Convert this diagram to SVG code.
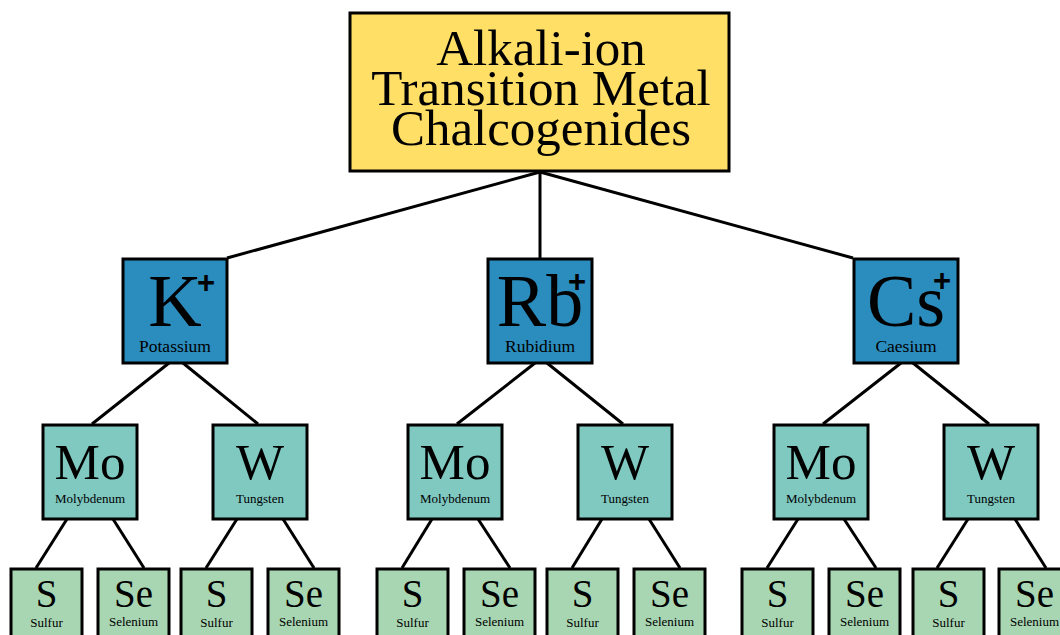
<svg xmlns="http://www.w3.org/2000/svg" width="1060" height="635" viewBox="0 0 1060 635">
<style>
.box{stroke:#000;stroke-width:3}
.root{fill:#FFDF66}
.alk{fill:#2B8CBE}
.tm{fill:#7FC9C1}
.ch{fill:#A8D6B2}
text{font-family:"Liberation Serif","Times New Roman",serif;fill:#000;text-anchor:middle}
.rt{font-size:51px}
.big{font-size:74px}
.sub{font-size:17.5px}
.mid{font-size:51px}
.sm{font-size:13px}
.chs{font-size:39px}
.plus{font-family:"Liberation Sans",Arial,sans-serif;font-size:31px;font-weight:bold}
.edge{stroke:#000;stroke-width:3;fill:none}
</style>
<rect width="1060" height="635" fill="#fff"/>
<g id="connectors">
<line class="edge" x1="540" y1="172" x2="227" y2="258"/>
<line class="edge" x1="540" y1="172" x2="540" y2="258"/>
<line class="edge" x1="540" y1="172" x2="853" y2="258"/>
<line class="edge" x1="169" y1="363" x2="92" y2="424"/>
<line class="edge" x1="183" y1="363" x2="258" y2="424"/>
<line class="edge" x1="535" y1="363" x2="457" y2="424"/>
<line class="edge" x1="547" y1="363" x2="623" y2="424"/>
<line class="edge" x1="901" y1="363" x2="823" y2="424"/>
<line class="edge" x1="913" y1="363" x2="989" y2="424"/>
<line class="edge" x1="67" y1="519" x2="36" y2="568"/>
<line class="edge" x1="113" y1="519" x2="144" y2="568"/>
<line class="edge" x1="237" y1="519" x2="206" y2="568"/>
<line class="edge" x1="283" y1="519" x2="314" y2="568"/>
<line class="edge" x1="432" y1="519" x2="402" y2="568"/>
<line class="edge" x1="478" y1="519" x2="510" y2="568"/>
<line class="edge" x1="602" y1="519" x2="572" y2="568"/>
<line class="edge" x1="649" y1="519" x2="680" y2="568"/>
<line class="edge" x1="798" y1="519" x2="767" y2="568"/>
<line class="edge" x1="844" y1="519" x2="876" y2="568"/>
<line class="edge" x1="968" y1="519" x2="937" y2="568"/>
<line class="edge" x1="1015" y1="519" x2="1046" y2="568"/>
</g>
<g id="root">
<rect class="box root" x="350" y="13" width="379" height="158"/>
<text class="rt" x="541" y="65">Alkali-ion</text>
<text class="rt" x="541" y="105">Transition Metal</text>
<text class="rt" x="541" y="145">Chalcogenides</text>
</g>
<g id="K">
<rect class="box alk" x="123" y="259" width="104" height="104"/>
<text class="big" x="175" y="326">K</text>
<text class="plus" x="206" y="293">+</text>
<text class="sub" x="175" y="352">Potassium</text>
</g>
<g id="Rb">
<rect class="box alk" x="488" y="259" width="104" height="104"/>
<text class="big" x="540" y="326">Rb</text>
<text class="plus" x="577" y="292">+</text>
<text class="sub" x="540" y="352">Rubidium</text>
</g>
<g id="Cs">
<rect class="box alk" x="854" y="259" width="104" height="104"/>
<text class="big" x="906" y="326">Cs</text>
<text class="plus" x="942" y="291">+</text>
<text class="sub" x="906" y="352">Caesium</text>
</g>
<g id="K-Mo">
<rect class="box tm" x="43" y="425" width="94" height="94"/>
<text class="mid" x="90" y="479">Mo</text>
<text class="sm" x="90" y="503">Molybdenum</text>
</g>
<g id="K-W">
<rect class="box tm" x="213" y="425" width="94" height="94"/>
<text class="mid" x="260" y="479">W</text>
<text class="sm" x="260" y="503">Tungsten</text>
</g>
<g id="Rb-Mo">
<rect class="box tm" x="408" y="425" width="94" height="94"/>
<text class="mid" x="455" y="479">Mo</text>
<text class="sm" x="455" y="503">Molybdenum</text>
</g>
<g id="Rb-W">
<rect class="box tm" x="578" y="425" width="94" height="94"/>
<text class="mid" x="625" y="479">W</text>
<text class="sm" x="625" y="503">Tungsten</text>
</g>
<g id="Cs-Mo">
<rect class="box tm" x="774" y="425" width="94" height="94"/>
<text class="mid" x="821" y="479">Mo</text>
<text class="sm" x="821" y="503">Molybdenum</text>
</g>
<g id="Cs-W">
<rect class="box tm" x="944" y="425" width="94" height="94"/>
<text class="mid" x="991" y="479">W</text>
<text class="sm" x="991" y="503">Tungsten</text>
</g>
<g id="K-Mo-S"><rect class="box ch" x="11" y="569" width="71" height="80"/><text class="chs" x="46.5" y="607">S</text><text class="sm" x="46.5" y="627">Sulfur</text></g>
<g id="K-Mo-Se"><rect class="box ch" x="98" y="569" width="71" height="80"/><text class="chs" x="133.5" y="607">Se</text><text class="sm" x="133.5" y="626">Selenium</text></g>
<g id="K-W-S"><rect class="box ch" x="181" y="569" width="71" height="80"/><text class="chs" x="216.5" y="607">S</text><text class="sm" x="216.5" y="627">Sulfur</text></g>
<g id="K-W-Se"><rect class="box ch" x="268" y="569" width="71" height="80"/><text class="chs" x="303.5" y="607">Se</text><text class="sm" x="303.5" y="626">Selenium</text></g>
<g id="Rb-Mo-S"><rect class="box ch" x="377" y="569" width="71" height="80"/><text class="chs" x="412.5" y="607">S</text><text class="sm" x="412.5" y="627">Sulfur</text></g>
<g id="Rb-Mo-Se"><rect class="box ch" x="464" y="569" width="71" height="80"/><text class="chs" x="499.5" y="607">Se</text><text class="sm" x="499.5" y="626">Selenium</text></g>
<g id="Rb-W-S"><rect class="box ch" x="547" y="569" width="71" height="80"/><text class="chs" x="582.5" y="607">S</text><text class="sm" x="582.5" y="627">Sulfur</text></g>
<g id="Rb-W-Se"><rect class="box ch" x="634" y="569" width="71" height="80"/><text class="chs" x="669.5" y="607">Se</text><text class="sm" x="669.5" y="626">Selenium</text></g>
<g id="Cs-Mo-S"><rect class="box ch" x="742" y="569" width="71" height="80"/><text class="chs" x="777.5" y="607">S</text><text class="sm" x="777.5" y="627">Sulfur</text></g>
<g id="Cs-Mo-Se"><rect class="box ch" x="829" y="569" width="71" height="80"/><text class="chs" x="864.5" y="607">Se</text><text class="sm" x="864.5" y="626">Selenium</text></g>
<g id="Cs-W-S"><rect class="box ch" x="913" y="569" width="71" height="80"/><text class="chs" x="948.5" y="607">S</text><text class="sm" x="948.5" y="627">Sulfur</text></g>
<g id="Cs-W-Se"><rect class="box ch" x="999" y="569" width="71" height="80"/><text class="chs" x="1034.5" y="607">Se</text><text class="sm" x="1034.5" y="626">Selenium</text></g>
</svg>
